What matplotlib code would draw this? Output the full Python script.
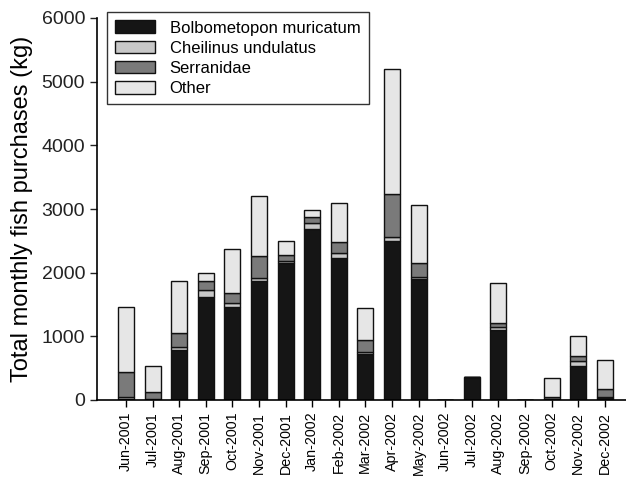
import numpy as np
import matplotlib.pyplot as plt

plt.rcParams['font.family'] = ['Liberation Sans', 'DejaVu Sans']

months = ['Jun-2001', 'Jul-2001', 'Aug-2001', 'Sep-2001', 'Oct-2001', 'Nov-2001',
          'Dec-2001', 'Jan-2002', 'Feb-2002', 'Mar-2002', 'Apr-2002', 'May-2002',
          'Jun-2002', 'Jul-2002', 'Aug-2002', 'Sep-2002', 'Oct-2002', 'Nov-2002',
          'Dec-2002']

bolbometopon = [20, 0, 786, 1614, 1467, 1865, 2148, 2683, 2233, 730, 2494, 1903,
                0, 355, 1100, 0, 0, 528, 30]
cheilinus = [20, 10, 52, 120, 52, 47, 32, 100, 83, 18, 63, 36,
             0, 0, 40, 0, 10, 90, 10]
serranidae = [405, 110, 220, 131, 157, 346, 105, 99, 173, 200, 682, 209,
              0, 0, 75, 0, 30, 79, 127]
other = [1011, 420, 818, 135, 703, 943, 209, 110, 602, 492, 1961, 912,
         0, 0, 625, 0, 305, 314, 467]

series = [
    ('Bolbometopon muricatum', bolbometopon, '#151515'),
    ('Cheilinus undulatus', cheilinus, '#c8c8c8'),
    ('Serranidae', serranidae, '#7a7a7a'),
    ('Other', other, '#e6e6e6'),
]

fig = plt.figure(figsize=(6.26, 4.79), dpi=100)
ax = fig.add_axes([97 / 626, 1 - 400 / 479, 529 / 626, 382 / 479])

x = np.arange(len(months))
bottom = np.zeros(len(months))
for name, vals, color in series:
    vals = np.array(vals, dtype=float)
    ax.bar(x, vals, width=0.6, bottom=bottom, color=color,
           edgecolor='#111111', linewidth=1.0, label=name)
    bottom += vals

ax.set_xlim(-1.09, 18.8)
ax.set_ylim(0, 6000)
ax.set_yticks(range(0, 6001, 1000))
ax.set_xticks(x)
ax.set_xticklabels(months, rotation=90, fontsize=10.3)
ax.tick_params(axis='y', labelsize=14, length=5, width=1, colors='#222222')
ax.tick_params(axis='x', length=5, width=1)
ax.set_ylabel('Total monthly fish purchases (kg)', fontsize=17, labelpad=6)

for s in ['top', 'right']:
    ax.spines[s].set_visible(False)
for s in ['left', 'bottom']:
    ax.spines[s].set_linewidth(1.2)

leg = ax.legend(loc='upper left', bbox_to_anchor=(107 / 626, 1 - 12 / 479),
                bbox_transform=fig.transFigure, borderaxespad=0, fontsize=12,
                frameon=True, fancybox=False, edgecolor='black',
                handlelength=2.35, handleheight=0.8, handletextpad=0.9,
                labelspacing=0.3, borderpad=0.5)
leg.get_frame().set_linewidth(1.0)

fig.savefig('out.png', dpi=100)
